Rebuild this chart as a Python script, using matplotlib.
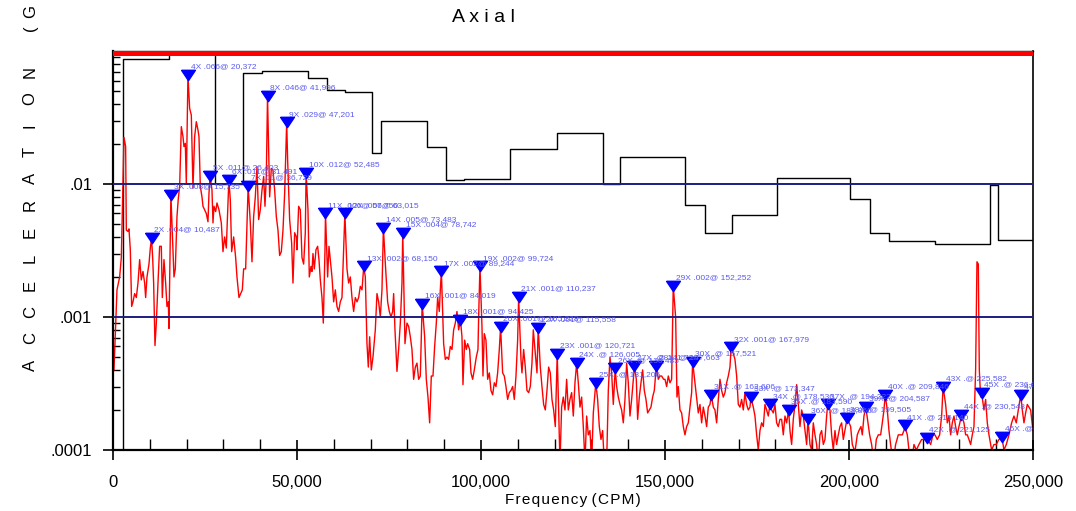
import numpy as np
import matplotlib
matplotlib.use('Agg')
import matplotlib.pyplot as plt
from matplotlib import font_manager
from matplotlib.ticker import FixedLocator, MultipleLocator, LogLocator, NullFormatter

# narrow sans if there is one, else an Arial-metric face
_have = {f.name for f in font_manager.fontManager.ttflist}
_face = next((n for n in ['Liberation Sans Narrow', 'DejaVu Sans Condensed', 'Liberation Sans']
              if n in _have), 'DejaVu Sans')
plt.rcParams['font.family'] = [_face, 'DejaVu Sans']

# spectrum vertices: frequency (CPM) / acceleration (G)
freq_cpm = [
    0, 272, 1087, 1812, 2265, 2989, 3442, 3623, 4076, 4348, 4710, 5072, 5435, 5888, 6341,
    6794, 7246, 7699, 8152, 8605, 8877, 9239, 9783, 10145, 10487, 10780, 11051, 11413, 11775,
    12228, 12681, 13134, 13406, 13859, 14312, 14674, 15036, 15217, 15735, 16304, 16576, 16938,
    17391, 17754, 18116, 18569, 19022, 19293, 19655, 19927, 20372, 20833, 21286, 21739, 22192,
    22645, 23098, 23370, 23732, 24185, 24457, 24910, 25362, 25815, 26087, 26403, 26902, 27174,
    27446, 27899, 28261, 28804, 29439, 29891, 30344, 30797, 31250, 31491, 31884, 32246, 32790,
    33333, 33696, 34239, 34692, 35145, 35507, 36051, 36413, 36729, 37319, 37772, 38225, 38678,
    39131, 39583, 40036, 40489, 40942, 41304, 41667, 41996, 42573, 43026, 43478, 43931, 44384,
    44837, 45290, 45743, 46196, 46649, 47201, 47464, 48007, 48551, 48913, 49366, 49819,
    50000, 50453, 50906, 51359, 51812, 52264, 52485, 52989, 53351, 53804, 54076, 54348, 54710,
    55163, 55616, 55978, 56341, 56793, 57156, 57609, 57750, 58333, 58696, 59058, 59511, 59964,
    60417, 60870, 61322, 61775, 62228, 62681, 63015, 63587, 64040, 64493, 64946, 65399, 65851,
    66304, 66757, 67210, 67663, 68150, 68569, 69022, 69384, 69746, 70199, 70652, 71286, 71739,
    72192, 72645, 73098, 73483, 74094, 74638, 75091, 75544, 75996, 76268, 76630, 77174, 77627,
    78080, 78533, 78742, 79348, 79891, 80344, 80797, 81250, 81703, 82156, 82609, 83062, 83514,
    83696, 84019, 84692, 85145, 85598, 86051, 86504, 86957, 87409, 87862, 88225, 88678, 88949,
    89244, 89855, 90308, 90761, 91214, 91667, 92120, 92572, 93025, 93478, 93931, 94425, 94837,
    95109, 95562, 96014, 96377, 96920, 97283, 97736, 98188, 98732, 99185, 99366, 99724,
    100272, 100543, 100906, 101359, 101812, 102264, 102717, 103170, 103623, 104076, 104529,
    104982, 105328, 105888, 106341, 106793, 107246, 107699, 108152, 108605, 109058, 109511,
    109964, 110237, 110870, 111141, 111594, 112047, 112500, 112953, 113406, 113859, 114221,
    114674, 115217, 115558, 116123, 116576, 117029, 117482, 117935, 118388, 118841, 119294,
    119746, 120199, 120471, 120721, 121467, 121920, 122373, 122826, 123279, 123732, 124185,
    124638, 125091, 125543, 126005, 126449, 126902, 127355, 127808, 128261, 128714, 129167,
    129620, 130072, 130525, 131206, 131703, 132156, 132609, 133062, 133514, 134149, 134602,
    135054, 135507, 135960, 136485, 136866, 137319, 137772, 138225, 138678, 139130, 139583,
    140036, 140489, 140942, 141720, 142210, 142573, 143026, 143478, 143931, 144384, 144837,
    145290, 145743, 146196, 146649, 147101, 147663, 148188, 148641, 149094, 149638,
    150000, 150453, 150906, 151359, 151812, 152252, 152899, 153261, 153623, 154076, 154529,
    154982, 155435, 155888, 156341, 156793, 157246, 157521, 158152, 158605, 159058, 159511,
    159964, 160417, 160870, 161322, 161775, 162228, 162606, 163134, 163587, 164040, 164493,
    164946, 165399, 165851, 166304, 166757, 167210, 167663, 167979, 168569, 169022, 169475,
    169928, 170380, 170833, 171286, 171739, 172192, 172645, 173098, 173347, 174004, 174457,
    174909, 175362, 175815, 176268, 176721, 177174, 177627, 178080, 178536, 178986, 179439,
    179891, 180344, 180797, 181250, 181703, 182156, 182609, 183062, 183590, 183968, 184420,
    184873, 185326, 185779, 186232, 186685, 187138, 187591, 188044, 188497, 188860, 189402,
    189855, 190308, 190761, 191214, 191667, 192120, 192572, 193025, 193478, 193931, 194222,
    194837, 195290, 195743, 196196, 196649, 197101, 197554, 198007, 198460, 199505,
    200453, 200906, 201630, 202264, 202717, 203261, 203623, 204076, 204587, 205163, 205616,
    206159, 206793, 207428, 207971, 208605, 209058, 209511, 209846, 210417, 210870, 211322,
    211957, 212681, 213406, 214040, 214493, 214946, 215140, 215852, 216304, 217029, 217663,
    218297, 219022, 219746, 220652, 221125, 222192, 222826, 223370, 224004, 224638, 225181,
    225582, 226268, 226721, 227174, 227627, 228080, 228533, 228986, 229439, 229891, 230344,
    230548, 231250, 231703, 232156, 232609, 233062, 233514, 233967, 234420, 234782, 235145,
    235417, 235779, 236040, 236685, 237138, 237591, 238044, 238769, 239402, 240036, 240761,
    241550, 242120, 242754, 243478, 244203, 244837, 245471, 246014, 246690, 247101, 247554,
    248007, 248460, 248913, 249366, 250000,
]
accel_g = [
    0.00039, 0.00040, 0.0016, 0.0020, 0.0028, 0.0224, 0.0191, 0.0045, 0.0044, 0.0046, 0.0032,
    0.0012, 0.0013, 0.0015, 0.0014, 0.0018, 0.0027, 0.0019, 0.0022, 0.0018, 0.0014, 0.0020,
    0.0025, 0.0033, 0.0039, 0.0028, 0.0018, 0.00061, 0.00090, 0.0018, 0.0034, 0.0034, 0.0014,
    0.0027, 0.0018, 0.0012, 0.0013, 0.00082, 0.0083, 0.0032, 0.0020, 0.0023, 0.0057, 0.0078,
    0.0096, 0.027, 0.0227, 0.0191, 0.0202, 0.0101, 0.066, 0.037, 0.033, 0.0093, 0.0227, 0.0294,
    0.0255, 0.0227, 0.0096, 0.0080, 0.0068, 0.0064, 0.0060, 0.0052, 0.0085, 0.0115, 0.0090,
    0.0051, 0.0068, 0.0062, 0.0072, 0.0064, 0.0051, 0.0031, 0.0040, 0.0033, 0.0074, 0.0108,
    0.0076, 0.0031, 0.0040, 0.0028, 0.0020, 0.0014, 0.0015, 0.0016, 0.0023, 0.0023, 0.0048,
    0.0096, 0.0051, 0.0026, 0.0057, 0.0080, 0.0135, 0.0054, 0.0064, 0.0090, 0.0114, 0.0068,
    0.0114, 0.046, 0.0080, 0.0131, 0.0127, 0.0090, 0.0057, 0.0045, 0.0029, 0.0031, 0.0045,
    0.0085, 0.029, 0.0151, 0.0054, 0.0036, 0.0018, 0.0043, 0.0040,
    0.0032, 0.0068, 0.0064, 0.0028, 0.0025, 0.0043, 0.0121, 0.0064, 0.0020, 0.0024, 0.0022,
    0.0030, 0.0023, 0.0032, 0.0034, 0.0027, 0.0019, 0.0014, 0.00090, 0.0032, 0.0060, 0.0020,
    0.0034, 0.0027, 0.0020, 0.0013, 0.0016, 0.0012, 0.0011, 0.0013, 0.0014, 0.0032, 0.0060,
    0.0023, 0.0018, 0.0020, 0.0014, 0.0011, 0.0014, 0.0013, 0.0014, 0.0017, 0.0016, 0.0024,
    0.0020, 0.00063, 0.00042, 0.00071, 0.00040, 0.00050, 0.00080, 0.0015, 0.0013, 0.0010,
    0.0016, 0.0047, 0.0023, 0.0013, 0.0011, 0.0010, 0.0011, 0.0015, 0.00080, 0.00039, 0.00057,
    0.00090, 0.0018, 0.0043, 0.00063, 0.00090, 0.00085, 0.00071, 0.00057, 0.00034, 0.00042,
    0.00045, 0.00034, 0.00036, 0.00057, 0.00125, 0.00071, 0.00034, 0.00025, 0.00016, 0.00036,
    0.00036, 0.00060, 0.00090, 0.0014, 0.0011, 0.0016, 0.0022, 0.00063, 0.00048, 0.00050,
    0.00048, 0.00060, 0.00057, 0.00080, 0.00090, 0.0011, 0.00080, 0.00095, 0.00071, 0.00031,
    0.00067, 0.00057, 0.00063, 0.00057, 0.00038, 0.00034, 0.00040, 0.00050, 0.00057, 0.0010,
    0.0024,
    0.00085, 0.00036, 0.00075, 0.00067, 0.00034, 0.00038, 0.00028, 0.00026, 0.00032, 0.00030,
    0.00038, 0.00057, 0.00084, 0.00038, 0.00036, 0.00030, 0.00024, 0.00027, 0.00028, 0.00030,
    0.00024, 0.00036, 0.00067, 0.00141, 0.00048, 0.00038, 0.00057, 0.00042, 0.00028, 0.00027,
    0.00030, 0.00045, 0.00080, 0.00057, 0.00038, 0.00083, 0.00042, 0.00030, 0.00022, 0.00020,
    0.00028, 0.00042, 0.00038, 0.00024, 0.00020, 0.00015, 0.00028, 0.00053, 0.00008, 0.00021,
    0.00025, 0.00020, 0.00034, 0.00020, 0.00024, 0.00027, 0.00018, 0.00032, 0.00045, 0.00032,
    0.00021, 0.00025, 0.00015, 0.00008, 0.00018, 0.00013, 0.00014, 0.00008, 0.00019, 0.00032,
    0.00024, 0.00015, 0.00012, 0.00014, 0.00008, 0.00008, 0.00028, 0.00050, 0.00038, 0.00022,
    0.00041, 0.00030, 0.00025, 0.00022, 0.00020, 0.00016, 0.00024, 0.00045, 0.00032, 0.00018,
    0.00024, 0.00043, 0.00034, 0.00017, 0.00025, 0.00032, 0.00040, 0.00028, 0.00024, 0.00019,
    0.00020, 0.00021, 0.00025, 0.00028, 0.00043, 0.00034, 0.00036, 0.00036, 0.00034,
    0.00034, 0.00030, 0.00036, 0.00032, 0.00034, 0.00171, 0.0010, 0.00025, 0.00030, 0.00020,
    0.00019, 0.00015, 0.00013, 0.00015, 0.00016, 0.00021, 0.00027, 0.00046, 0.00032, 0.00025,
    0.00019, 0.00022, 0.00016, 0.00021, 0.00018, 0.00015, 0.00021, 0.00022, 0.00026, 0.00021,
    0.00020, 0.00016, 0.00024, 0.00034, 0.00028, 0.00025, 0.00027, 0.00032, 0.00036, 0.00042,
    0.00059, 0.00053, 0.00048, 0.00036, 0.00022, 0.00021, 0.00024, 0.00020, 0.00027, 0.00022,
    0.00020, 0.00021, 0.00025, 0.00021, 0.00018, 0.00013, 0.00010, 0.00014, 0.00016, 0.00015,
    0.00022, 0.00020, 0.00018, 0.00022, 0.00020, 0.00019, 0.00022, 0.00016, 0.00015, 0.00017,
    0.00017, 0.00013, 0.00018, 0.00016, 0.00020, 0.00014, 0.00011, 0.00017, 0.00022, 0.00031,
    0.00022, 0.00015, 0.00020, 0.00018, 0.00014, 0.00011, 0.000171, 0.00011, 0.00010, 0.00016,
    0.00013, 0.00011, 0.00008, 0.00013, 0.00014, 0.00011, 0.00012, 0.00018, 0.00022, 0.00020,
    0.00013, 0.00010, 0.00014, 0.00011, 0.00013, 0.00015, 0.00016, 0.00012, 0.000174,
    0.00015, 0.00011, 0.000097, 0.00013, 0.00014, 0.00015, 0.00013, 0.00018, 0.00021, 0.00016,
    0.00013, 0.00011, 0.00008, 0.00012, 0.00013, 0.00013, 0.00016, 0.00020, 0.00026, 0.00020,
    0.00014, 0.00011, 0.00008, 0.00011, 0.00013, 0.00013, 0.00013, 0.00014, 0.000153, 0.00013,
    0.00010, 0.00008, 0.00011, 0.00010, 0.00011, 0.00012, 0.00012, 0.000123, 0.00011, 0.00013,
    0.00013, 0.00012, 0.00013, 0.00018, 0.00030, 0.00022, 0.00016, 0.00018, 0.00013, 0.00016,
    0.00018, 0.00015, 0.00013, 0.00015, 0.00017, 0.000183, 0.00016, 0.00013, 0.00013, 0.00012,
    0.00011, 0.00013, 0.00015, 0.00040, 0.0026, 0.0025, 0.00040, 0.00025, 0.00027, 0.00020,
    0.00024, 0.00016, 0.00013, 0.00010, 0.00011, 0.00011, 0.00012, 0.000125, 0.00010, 0.00011,
    0.00013, 0.00016, 0.00018, 0.00016, 0.00020, 0.00026, 0.00020, 0.00016, 0.00019, 0.00022,
    0.00021, 0.00020, 0.00014,
]

# alarm envelope: band edges (CPM) and level of each band (G)
band_edge_cpm = [0, 2720, 15200, 27850, 35330, 40490, 52990, 58150, 63040, 70380, 72830,
                 85330, 90490, 95380, 107880, 120650, 133150, 137770, 155430, 160870,
                 168210, 180430, 200270, 205710, 210870, 223370, 238310, 240490, 250000]
band_level_g = [0.00005, 0.087, 0.2, 0.01, 0.0685, 0.0707, 0.0627, 0.0509, 0.049, 0.0171,
                0.0297, 0.019, 0.0107, 0.0109, 0.0183, 0.0242, 0.01, 0.016, 0.00695,
                0.00428, 0.00585, 0.0111, 0.0077, 0.00428, 0.00372, 0.00354, 0.0098,
                0.00379, 0.00379]

# order peaks
peak_order = list(range(2, 48))
peak_cpm = [10487, 15735, 20372, 26403, 31491, 36729, 41996, 47201, 52485, 57750, 63015,
            68150, 73483, 78742, 84019, 89244, 94425, 99724, 105328, 110237, 115558, 120721,
            126005, 131206, 136485, 141720, 147663, 152252, 157521, 162606, 167979, 173347,
            178536, 183590, 188860, 194222, 199505, 204587, 209846, 215140, 221125, 225582,
            230548, 236040, 241550, 246690]
peak_g = [0.0039, 0.0083, 0.066, 0.0115, 0.0108, 0.0096, 0.046, 0.029, 0.0121, 0.0060,
          0.0060, 0.0024, 0.0047, 0.0043, 0.00125, 0.0022, 0.00095, 0.0024, 0.00084, 0.00141,
          0.00083, 0.00053, 0.00045, 0.00032, 0.00041, 0.00043, 0.00043, 0.00171, 0.00046,
          0.00026, 0.00059, 0.00025, 0.00022, 0.00020, 0.000171, 0.00022, 0.000174, 0.00021,
          0.00026, 0.000153, 0.000123, 0.00030, 0.000183, 0.00027, 0.000125, 0.00026]

x_ticks = [0, 50000, 100000, 150000, 200000, 250000]
y_ticks = [0.0001, 0.001, 0.01]
y_tick_labels = ['.0001', '.001', '.01']


def amp_text(a):
    # 3 decimals, no leading/trailing zeros ('.000' -> '.')
    return ('%.3f' % a).lstrip('0').rstrip('0')


fig = plt.figure(figsize=(10.76, 5.11), dpi=100)
ax = fig.add_axes([0.1050, 0.1194, 0.8550, 0.7808])

ax.set_yscale('log')
ax.set_xlim(0, 250000)
ax.set_ylim(1e-4, 1e-1)

ax.axhspan(0.091, 0.1, color='red', lw=0, zorder=4)
for lvl in (0.01, 0.001):
    ax.axhline(lvl, color='#1d1d80', lw=1.4, zorder=3)

ax.plot(band_edge_cpm, band_level_g, drawstyle='steps-post', color='black', lw=1.0, zorder=2)
ax.plot(freq_cpm, accel_g, color='red', lw=1.0, zorder=2.5)

ax.plot(peak_cpm, peak_g, linestyle='none', color='#0000ff', markersize=10,
        marker=[(-1, 0.75), (1, 0.75), (0, -0.75), (-1, 0.75)], zorder=5)
for n, f, a in zip(peak_order, peak_cpm, peak_g):
    ax.annotate('%dX %s@ %s' % (n, amp_text(a), format(f, ',')), (f, a),
                xytext=(2, 3.5), textcoords='offset points', ha='left', va='bottom',
                fontsize=6, color='#5a5af0', clip_on=True, zorder=6)

ax.xaxis.set_major_locator(FixedLocator(x_ticks))
ax.set_xticklabels([format(t, ',') for t in x_ticks])
ax.xaxis.set_minor_locator(MultipleLocator(10000))
ax.yaxis.set_major_locator(FixedLocator(y_ticks))
ax.set_yticklabels(y_tick_labels)
ax.yaxis.set_minor_locator(LogLocator(base=10, subs=np.arange(2, 10)))
ax.yaxis.set_minor_formatter(NullFormatter())

ax.tick_params(axis='x', which='major', direction='inout', length=14, width=1.2,
               labelsize=12, pad=11)
ax.tick_params(axis='x', which='minor', direction='in', length=8, width=1.0)
ax.tick_params(axis='y', which='major', direction='out', length=7, width=1.2,
               labelsize=12, pad=8)
ax.tick_params(axis='y', which='minor', direction='in', length=5, width=1.0)

for side in ('left', 'bottom'):
    ax.spines[side].set_linewidth(1.6)
ax.spines['right'].set_linewidth(1.2)
ax.spines['top'].set_linewidth(1.0)

fig.text(0.449, 0.965, 'A x i a l', ha='center', va='center', fontsize=14)
fig.text(0.5325, 0.021, '\u200a'.join('Frequency') + ' (\u200a' + '\u200a'.join('CPM') + '\u200a)',
         ha='center', va='center', fontsize=11)

# vertical axis title, one glyph at a time for the wide spacing
ylab_y = [365 - 26.6 * i for i in range(12)] + [28, 12]
for ch, yp in zip('ACCELERATION(G', ylab_y):
    fig.text(0.028, 1 - yp / 511, ch, rotation=90, ha='center', va='center', fontsize=12)

fig.savefig('out.png', dpi=100)
